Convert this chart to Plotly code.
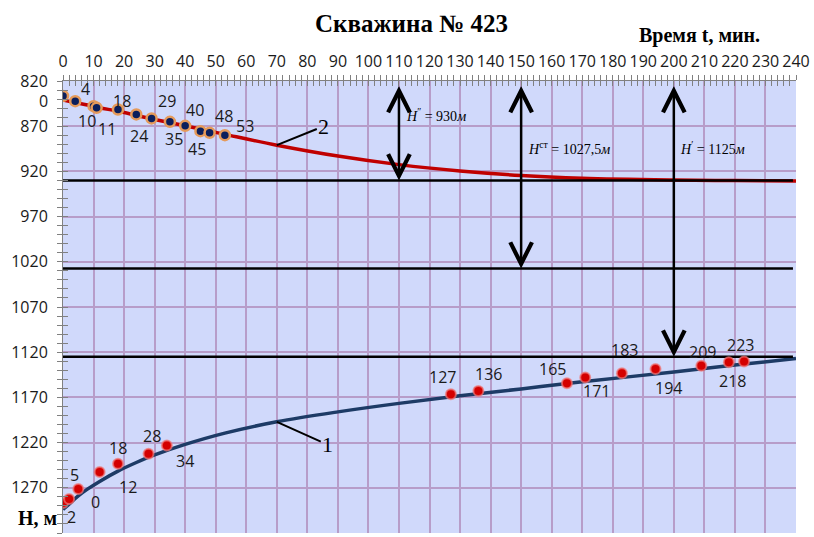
import plotly.graph_objects as go

# ---- data -------------------------------------------------------------
# smoothed curves (time, min -> depth, m)
t_fit = [0, 2, 5, 8, 12, 18, 24, 30, 40, 53, 70, 90, 110, 130, 150, 170, 200, 220, 240]
H2_fit = [841, 842.5, 844.5, 846.5, 849.5, 853.5, 858, 862.5, 869.5, 879, 891, 903, 912.5,
          919.5, 924.5, 927.5, 929.5, 930.2, 930.5]
H1_fit = [1294, 1288, 1279, 1271.5, 1262.9, 1251.5, 1242.0, 1233.6, 1222.0, 1209.5, 1197.0,
          1186.0, 1176.6, 1168.2, 1160.6, 1152.8, 1141.8, 1134.2, 1127.0]

# measured points, curve 2 (upper)
t2_obs = [0, 4, 10, 11, 18, 24, 29, 35, 40, 45, 48, 53]
H2_obs = [836.5, 842.3, 847.8, 849.7, 851.5, 857.0, 861.4, 865.2, 869.6, 875.5, 877.3, 879.9]

# measured points, curve 1 (lower)
t1_obs = [0, 2, 5, 12, 18, 28, 34, 127, 136, 165, 171, 183, 194, 209, 218, 223]
H1_obs = [1286.9, 1282.4, 1271.4, 1252.6, 1243.4, 1232.4, 1223.2, 1166.4, 1162.8, 1154.3,
          1148.0, 1143.2, 1138.5, 1135.1, 1131.0, 1130.4]

# characteristic levels, m
H_dyn = 930
H_st = 1027.5
H_stat = 1125
level_names = ["<i>H</i><sup>\u2033</sup> = 930<i>м</i>",
               "<i>H</i><sup>ст</sup> = 1027,5<i>м</i>",
               "<i>H</i><sup>\u2032</sup> = 1125<i>м</i>"]
level_times = [110, 150, 200]

x_ticks = list(range(0, 241, 10))
y_ticks = list(range(820, 1321, 50))

# label offsets in pixels (dx, dy) for each measured point
off2 = [(-20, -5), (10, 12), (-7, -15), (10, -21), (4, 8), (3, -22), (15, 17), (4, -17),
        (10, 16), (-3, -18), (14, 17), (20, 9)]
off1 = [(32, 1), (2, -18), (-4, 14), (28, -15), (0, 16), (3, 18), (18, -16), (-8, 17),
        (10, 17), (-14, 14), (11, -13), (3, 23), (13, -19), (1, 14), (4, -19), (-4, 17)]

# ---- styles ------------------------------------------------------------
BG = "#d0d9fb"
GRID = "#b79dc9"
AXC = "#808080"
NUMFONT = dict(family="Open Sans", size=16, color="#1a1a1a")
SERIF = "Liberation Serif"

fig = go.Figure()

fig.add_trace(go.Scatter(x=t_fit, y=H2_fit, mode="lines", line=dict(color="#c00000", width=3.5, shape="spline"),
                         hoverinfo="skip", showlegend=False))
fig.add_trace(go.Scatter(x=t_fit, y=H1_fit, mode="lines", line=dict(color="#1d3b66", width=3.5, shape="spline"),
                         hoverinfo="skip", showlegend=False))

for h in (H_dyn, H_st, H_stat):
    fig.add_trace(go.Scatter(x=[x_ticks[0], x_ticks[-1] - 1], y=[h, h], mode="lines",
                             line=dict(color="black", width=2.5), hoverinfo="skip", showlegend=False))

fig.add_trace(go.Scatter(x=t2_obs, y=H2_obs, mode="markers",
                         marker=dict(size=10, color="#0b1f5c", line=dict(color="#e59a5a", width=2.5)),
                         showlegend=False))
fig.add_trace(go.Scatter(x=t1_obs, y=H1_obs, mode="markers",
                         marker=dict(size=10, color="#d40000", line=dict(color="rgba(240,120,120,0.7)", width=2)),
                         showlegend=False))

# helper trace for the overlay axes (tick marks on the inner side)
fig.add_trace(go.Scatter(x=[0, 240], y=[820, 1320], xaxis="x2", yaxis="y2", mode="markers",
                         marker=dict(size=0.1, opacity=0), hoverinfo="skip", showlegend=False))

ann = []
for t, h, (dx, dy) in zip(t2_obs, H2_obs, off2):
    ann.append(dict(x=t, y=h, xref="x", yref="y", text=str(t), showarrow=False,
                    xshift=dx, yshift=dy, font=NUMFONT))
for t, h, (dx, dy) in zip(t1_obs, H1_obs, off1):
    ann.append(dict(x=t, y=h, xref="x", yref="y", text=str(t), showarrow=False,
                    xshift=dx, yshift=dy, font=NUMFONT))

# double-headed arrows from the top edge to each level
for t, h in zip(level_times, (H_dyn, H_st, H_stat)):
    ann.append(dict(x=t, y=h, ax=t, ay=824, xref="x", yref="y", axref="x", ayref="y",
                    text="", showarrow=True, arrowhead=5, startarrowhead=5, arrowside="end+start",
                    arrowsize=1.7, startarrowsize=1.7, arrowwidth=2.5, arrowcolor="black",
                    standoff=0, startstandoff=0))

# level captions
for t, name, yv in zip(level_times, level_names, (858, 894.6, 894.6)):
    ann.append(dict(x=t + 1.5, y=yv, xref="x", yref="y", text=name, showarrow=False,
                    xanchor="left", yanchor="middle", font=dict(family=SERIF, size=14, color="black")))

# curve numbers with leader lines
i70 = t_fit.index(70)
ann.append(dict(x=70, y=H2_fit[i70], xref="x", yref="y", text="2", showarrow=True, arrowhead=0,
                arrowwidth=2, arrowcolor="black", ax=47, ay=-19, standoff=0,
                font=dict(family=SERIF, size=22, color="black")))
ann.append(dict(x=70, y=H1_fit[i70], xref="x", yref="y", text="1", showarrow=True, arrowhead=0,
                arrowwidth=2, arrowcolor="black", ax=51, ay=23, standoff=0,
                font=dict(family=SERIF, size=22, color="black")))

# titles
ann.append(dict(x=0.4755, y=1.128, xref="paper", yref="paper", text="<b>Скважина № 423</b>",
                xanchor="center", yanchor="middle", showarrow=False,
                font=dict(family=SERIF, size=25, color="black")))
ann.append(dict(x=0.868, y=1.1, xref="paper", yref="paper", text="<b>Время t, мин.</b>",
                xanchor="center", yanchor="middle", showarrow=False,
                font=dict(family=SERIF, size=20, color="black")))
ann.append(dict(x=-0.0353, y=0.033, xref="paper", yref="paper", text="<b>H, м</b>",
                xanchor="center", yanchor="middle", showarrow=False,
                font=dict(family=SERIF, size=20, color="black")))

minor_x = dict(dtick=2, ticklen=5, tickcolor=AXC, tickwidth=1, showgrid=False)
minor_y = dict(dtick=10, ticklen=5, tickcolor=AXC, tickwidth=1, showgrid=False)

fig.update_layout(
    width=814, height=537,
    margin=dict(l=63, r=15, t=81, b=4),
    paper_bgcolor="white",
    plot_bgcolor=BG,
    showlegend=False,
    annotations=ann,
    xaxis=dict(range=[0, 240], side="top", tickvals=x_ticks, showgrid=True, gridcolor=GRID, gridwidth=1.5,
               ticks="outside", ticklen=5, tickcolor=AXC, showline=True, linecolor=AXC, linewidth=1,
               minor=dict(ticks="outside", **minor_x), tickfont=NUMFONT, ticklabelstandoff=2,
               zeroline=False),
    xaxis2=dict(range=[0, 240], side="top", overlaying="x", tickvals=x_ticks, showgrid=False,
                ticks="inside", ticklen=5, tickcolor=AXC, showticklabels=False, showline=False,
                minor=dict(ticks="inside", **minor_x), zeroline=False),
    yaxis=dict(range=[1320, 820], tickvals=y_ticks, showgrid=True, gridcolor=GRID, gridwidth=1.5,
               ticks="outside", ticklen=5, tickcolor=AXC, showline=True, linecolor=AXC, linewidth=1,
               minor=dict(ticks="outside", **minor_y), tickfont=NUMFONT, ticklabelstandoff=6,
               zeroline=False),
    yaxis2=dict(range=[1320, 820], overlaying="y", side="left", tickvals=y_ticks, showgrid=False,
                ticks="inside", ticklen=5, tickcolor=AXC, showticklabels=False, showline=False,
                minor=dict(ticks="inside", **minor_y), zeroline=False),
)

fig.write_html("out.html")
